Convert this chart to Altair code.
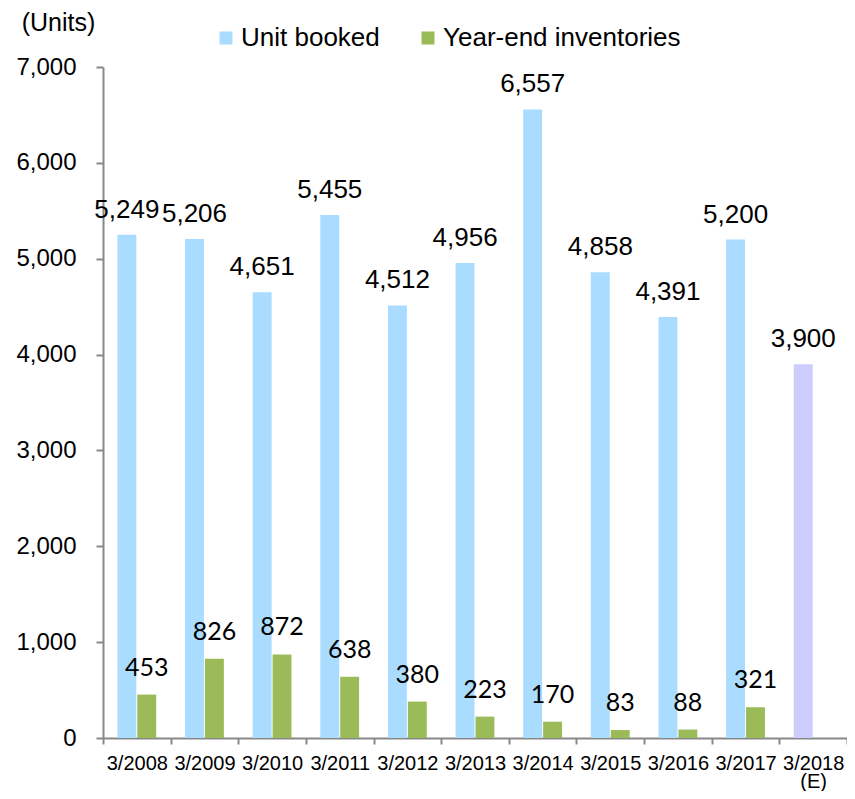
import altair as alt
import pandas as pd

periods = ["3/2008", "3/2009", "3/2010", "3/2011", "3/2012", "3/2013",
           "3/2014", "3/2015", "3/2016", "3/2017", "3/2018"]
units_booked = [5249, 5206, 4651, 5455, 4512, 4956, 6557, 4858, 4391, 5200, 3900]
inventories = [453, 826, 872, 638, 380, 223, 170, 83, 88, 321]  # none for 3/2018 (E)
series = ["Unit booked", "Year-end inventories"]
estimate_key = "Unit booked (E)"
colors = ["#A9DCFF", "#9BBB59", "#CCCCFF"]

rows = []
for i, p in enumerate(periods):
    key = estimate_key if p == "3/2018" else series[0]
    rows.append({"period": p, "series": series[0], "colorKey": key, "value": units_booked[i]})
    if i < len(inventories):
        rows.append({"period": p, "series": series[1], "colorKey": series[1], "value": inventories[i]})
df = pd.DataFrame(rows)

FONT = "Liberation Sans"
GREY = "#888888"

base = alt.Chart(df).encode(
    x=alt.X("period:N", sort=periods,
            scale=alt.Scale(paddingInner=0, paddingOuter=0),
            axis=alt.Axis(title=None, labelAngle=0, labelFontSize=20, labelFont=FONT,
                          labelColor="black", tickBand="extent", tickSize=6,
                          tickColor=GREY, tickWidth=2, domainColor=GREY, domainWidth=2,
                          labelPadding=9, labelOverlap=False, labelLineHeight=18,
                          labelExpr="datum.value == '3/2018' ? ['3/2018', '(E)'] : datum.label")),
    xOffset=alt.XOffset("series:N",
                        scale=alt.Scale(domain=series, paddingInner=0.05, paddingOuter=0.725)),
    y=alt.Y("value:Q", scale=alt.Scale(domain=[0, 7000], nice=False),
            axis=alt.Axis(values=[0, 1000, 2000, 3000, 4000, 5000, 6000, 7000], format=",d",
                          grid=False, labelFontSize=24, labelFont=FONT, labelColor="black",
                          labelPadding=20, tickSize=7, tickColor=GREY, tickWidth=2,
                          domainColor=GREY, domainWidth=2,
                          title="(Units)", titleAngle=0, titleX=-45, titleY=-45,
                          titleAlign="center", titleBaseline="middle", titleFontSize=25,
                          titleFontWeight="normal", titleFont=FONT, titleColor="black")),
)

bars = base.mark_bar().encode(
    color=alt.Color("colorKey:N",
                    scale=alt.Scale(domain=series + [estimate_key], range=colors),
                    legend=alt.Legend(title=None, orient="none", legendX=110, legendY=-42,
                                      direction="horizontal", symbolType="square",
                                      symbolSize=169, symbolStrokeWidth=0, symbolOpacity=1,
                                      labelFontSize=26, labelFont=FONT, labelColor="black",
                                      labelOffset=2, labelLimit=500, columnPadding=35,
                                      padding=0, values=series))
)

labels_blue = base.transform_filter(alt.datum.series == series[0]).mark_text(
    font=FONT, fontSize=26, baseline="alphabetic", dy=-17, color="black"
).encode(text=alt.Text("value:Q", format=","))

labels_green = base.transform_filter(alt.datum.series == series[1]).mark_text(
    font="Lato", fontSize=25, baseline="alphabetic", dy=-19, color="black"
).encode(text=alt.Text("value:Q", format=","))

chart = alt.layer(bars, labels_blue, labels_green).properties(
    width=744, height=671,
    autosize=alt.AutoSizeParams(type="none"),
    padding={"left": 95, "top": 59, "right": 0, "bottom": 53},
    background="white",
).configure_view(stroke=None)

chart.save("out.html", embed_options={"renderer": "svg", "actions": False})
